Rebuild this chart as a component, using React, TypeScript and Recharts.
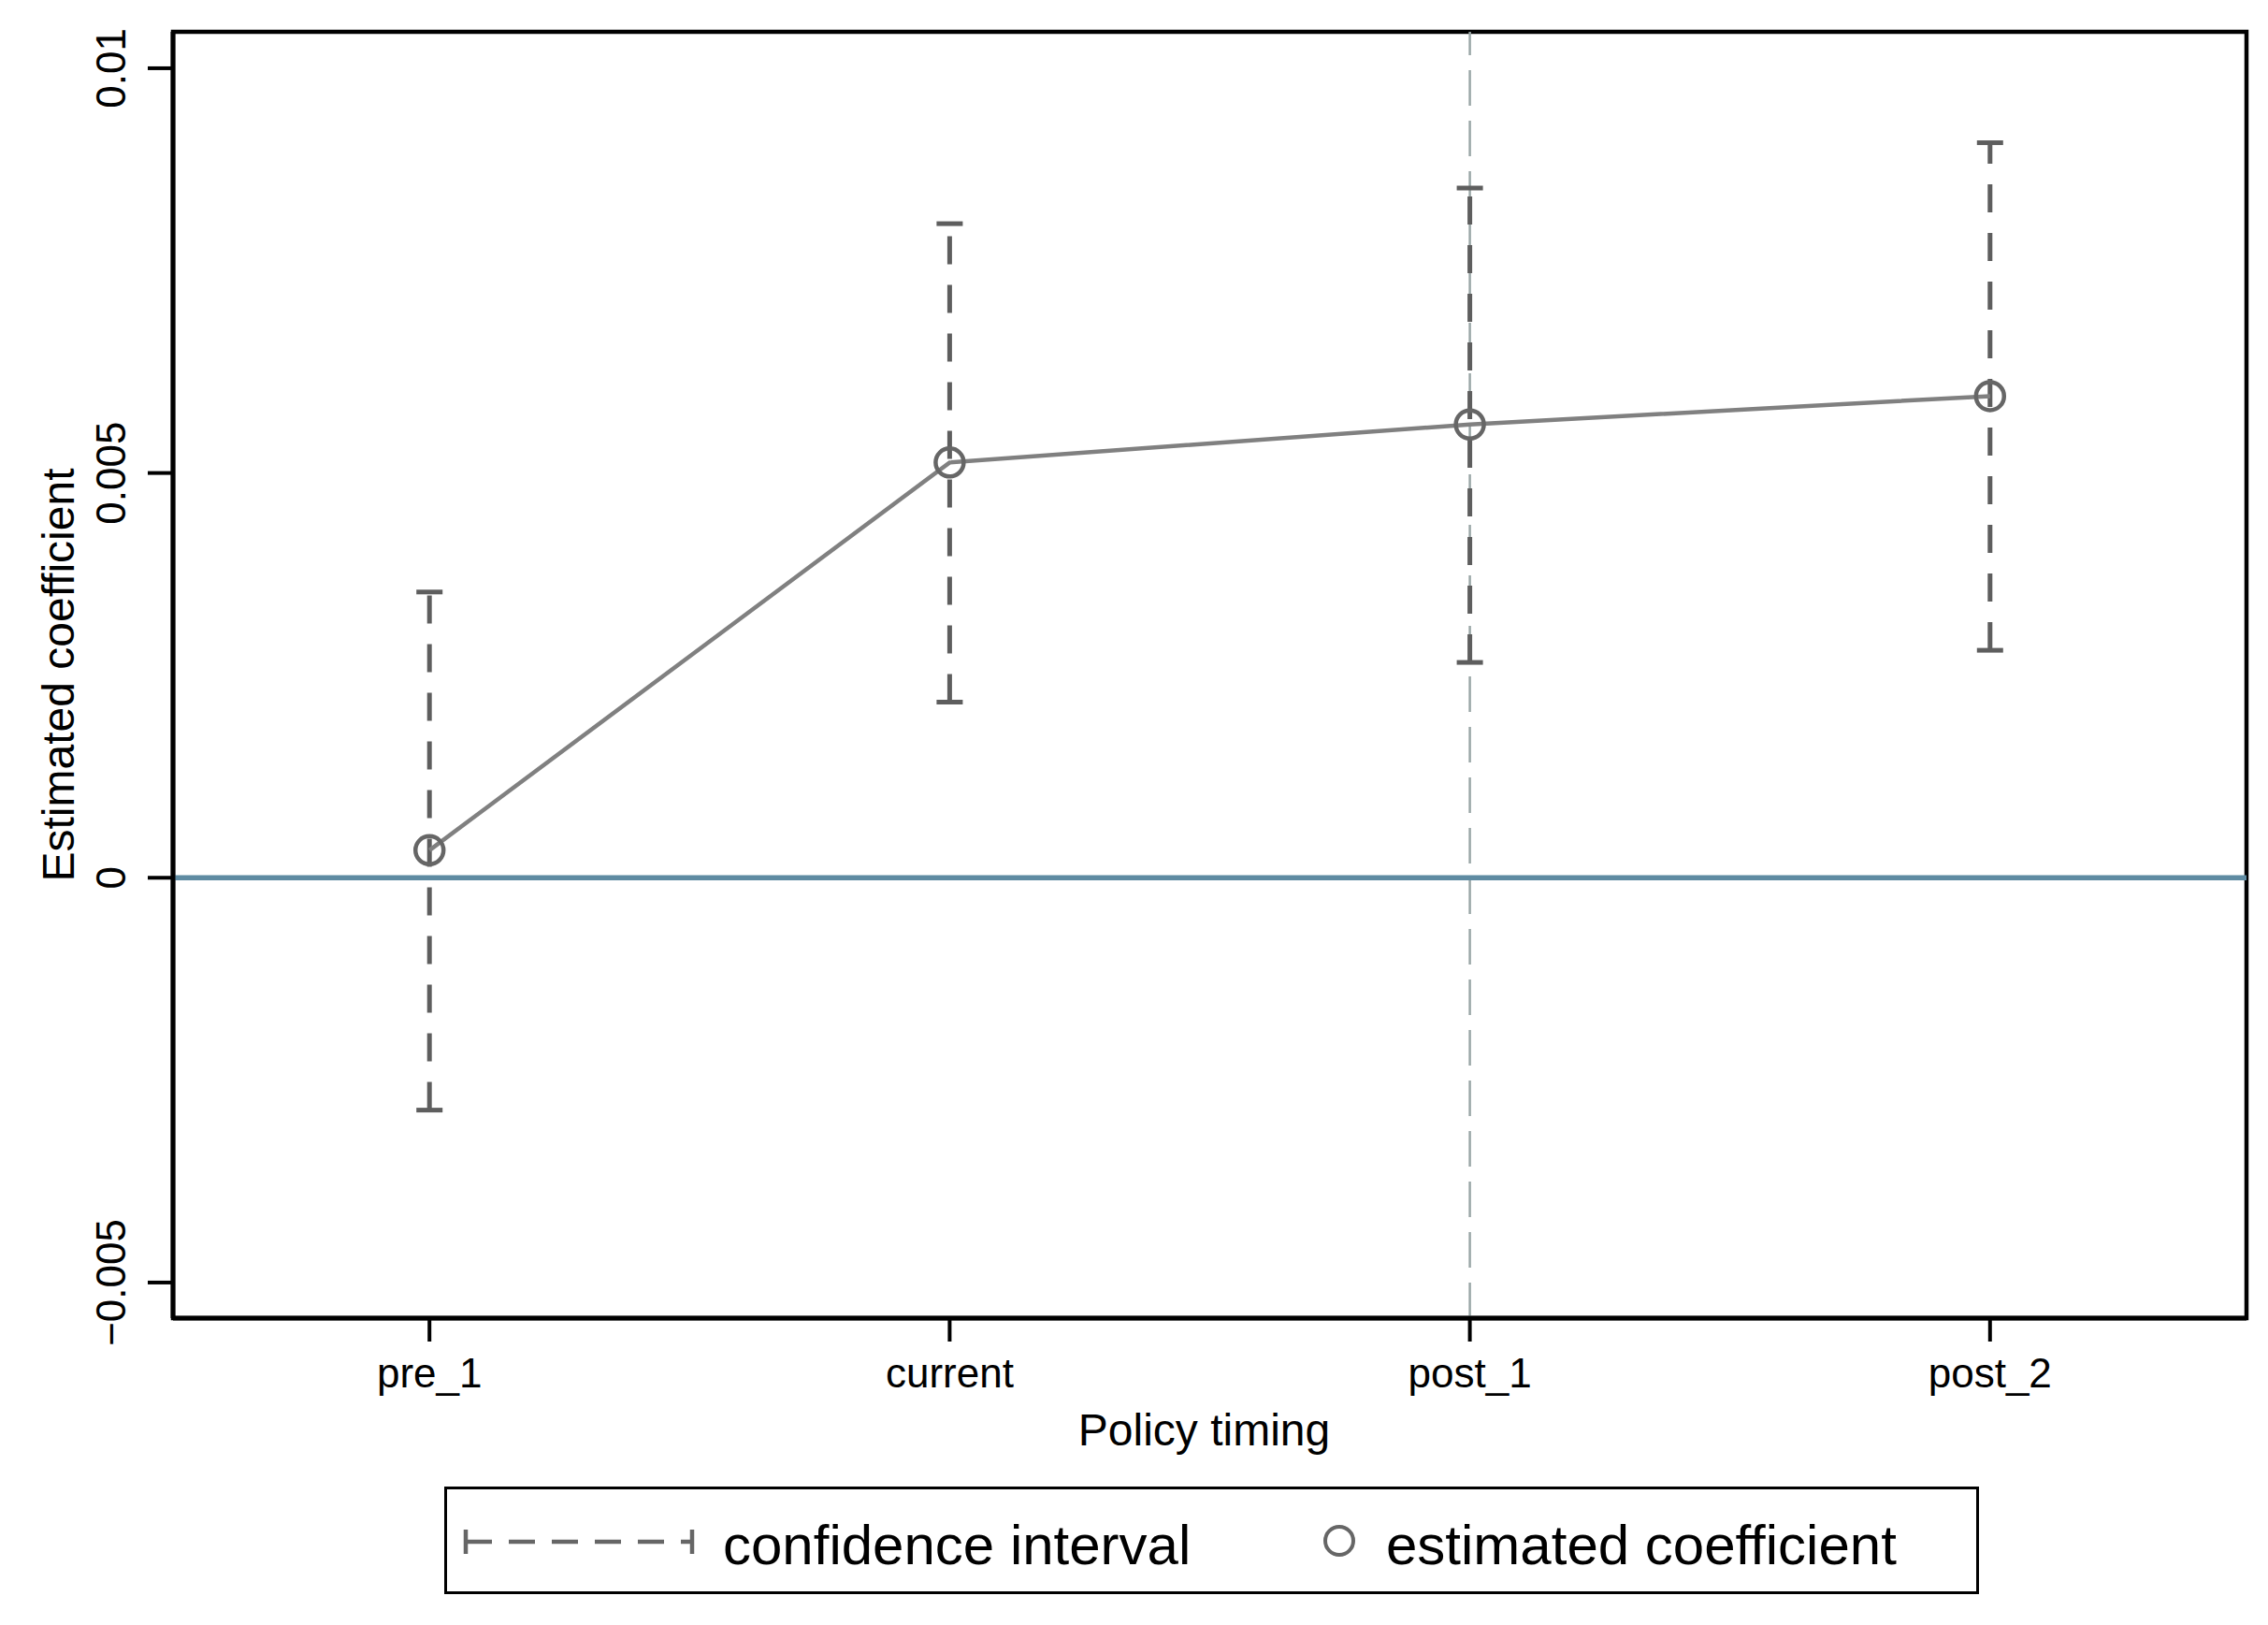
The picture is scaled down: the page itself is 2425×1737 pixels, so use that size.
import React from "react";
import {
  ComposedChart,
  ErrorBar,
  Label,
  Line,
  ReferenceArea,
  ReferenceLine,
  XAxis,
  YAxis,
} from "recharts";

const categories = ["pre_1", "current", "post_1", "post_2"];
const positions = [1, 2, 3, 4];
const coefficients = [0.00034, 0.00513, 0.0056, 0.00595];
const ciLower = [-0.00287, 0.00217, 0.00266, 0.00281];
const ciUpper = [0.00353, 0.00808, 0.00852, 0.00908];
const yTicks = [-0.005, 0, 0.005, 0.01];
const yTickLabels = ["\u22120.005", "0", "0.005", "0.01"];
const policyStart = 3;

const xDomain: [number, number] = [0.507, 4.493];
const yDomain: [number, number] = [-0.00544, 0.01045];

const font = "'Liberation Sans', Arial, Helvetica, sans-serif";

const rows = positions.map((x, i) => ({
  x,
  coef: coefficients[i],
  err: [coefficients[i] - ciLower[i], ciUpper[i] - coefficients[i]],
}));

const YTick = (props: any) => {
  const { y, payload } = props;
  const idx = yTicks.indexOf(payload.value);
  const cx = 119;
  return (
    <text
      x={cx}
      y={y}
      transform={`rotate(-90 ${cx} ${y})`}
      textAnchor="middle"
      dominantBaseline="central"
      fontSize={44}
      fontFamily={font}
      fill="#000"
    >
      {idx >= 0 ? yTickLabels[idx] : payload.value}
    </text>
  );
};

const CoefDot = (props: any) => {
  const { cx, cy, index } = props;
  return (
    <circle
      key={`dot-${index}`}
      cx={cx}
      cy={cy}
      r={15}
      fill="none"
      stroke="#666"
      strokeWidth={4.5}
    />
  );
};

const renderYTitle = (props: any) => {
  const vb = props.viewBox || {};
  const cy = vb.y + vb.height / 2;
  const cx = 62;
  return (
    <text
      x={cx}
      y={cy}
      transform={`rotate(-90 ${cx} ${cy})`}
      textAnchor="middle"
      dominantBaseline="central"
      fontSize={48}
      fontFamily={font}
      fill="#000"
    >
      Estimated coefficient
    </text>
  );
};

const renderXTitle = (props: any) => {
  const vb = props.viewBox || {};
  return (
    <text
      x={vb.x + vb.width / 2 - 6}
      y={1528}
      textAnchor="middle"
      dominantBaseline="central"
      fontSize={48}
      fontFamily={font}
      fill="#000"
    >
      Policy timing
    </text>
  );
};

const ChartLegend = () => (
  <div
    style={{
      position: "absolute",
      left: 475,
      top: 1589,
      width: 1641,
      height: 115,
      border: "3.5px solid #000",
      boxSizing: "border-box",
      background: "#fff",
      fontFamily: font,
      fontSize: 60,
      color: "#000",
    }}
  >
    <svg
      width={1641}
      height={115}
      style={{ position: "absolute", left: -3, top: -3 }}
    >
      <line x1={23} y1={46} x2={23} y2={72} stroke="#666" strokeWidth={4.5} />
      <line
        x1={23}
        y1={59}
        x2={265}
        y2={59}
        stroke="#666"
        strokeWidth={4.5}
        strokeDasharray="28 18"
      />
      <line x1={265} y1={46} x2={265} y2={72} stroke="#666" strokeWidth={4.5} />
      <circle cx={957} cy={58} r={15} fill="none" stroke="#666" strokeWidth={4} />
    </svg>
    <div
      style={{
        position: "absolute",
        left: 295,
        top: 5,
        height: "100%",
        display: "flex",
        alignItems: "center",
        lineHeight: 1,
        whiteSpace: "nowrap",
      }}
    >
      confidence interval
    </div>
    <div
      style={{
        position: "absolute",
        left: 1004,
        top: 5,
        height: "100%",
        display: "flex",
        alignItems: "center",
        lineHeight: 1,
        whiteSpace: "nowrap",
      }}
    >
      estimated coefficient
    </div>
  </div>
);

export default function App() {
  return (
    <div
      style={{
        position: "absolute",
        left: 0,
        top: 0,
        width: 2425,
        height: 1737,
        background: "#fff",
      }}
    >
      <ComposedChart
        width={2425}
        height={1737}
        data={rows}
        margin={{ top: 34, right: 23, left: 0, bottom: 208 }}
      >
        <XAxis
          type="number"
          dataKey="x"
          domain={xDomain}
          ticks={positions}
          interval={0}
          allowDataOverflow
          height={120}
          tickFormatter={(v: number) => categories[v - 1] ?? ""}
          tick={{ fill: "#000", fontSize: 44, fontFamily: font }}
          tickSize={25}
          tickMargin={18}
          tickLine={{ stroke: "#000", strokeWidth: 4 }}
          axisLine={{ stroke: "#000", strokeWidth: 5 }}
        >
          <Label content={renderXTitle} />
        </XAxis>
        <YAxis
          type="number"
          domain={yDomain}
          ticks={yTicks}
          interval={0}
          allowDataOverflow
          width={185}
          tick={<YTick />}
          tickSize={27}
          tickLine={{ stroke: "#000", strokeWidth: 4 }}
          axisLine={{ stroke: "#000", strokeWidth: 5 }}
        >
          <Label content={renderYTitle} />
        </YAxis>
        <ReferenceArea
          x1={xDomain[0]}
          x2={xDomain[1]}
          y1={yDomain[0]}
          y2={yDomain[1]}
          fill="none"
          stroke="#000"
          strokeWidth={4.5}
          ifOverflow="visible"
        />
        <ReferenceLine
          x={policyStart}
          stroke="#9aa7a7"
          strokeWidth={2.5}
          strokeDasharray="38 16"
        />
        <ReferenceLine y={0} stroke="#5f8ba2" strokeWidth={5.5} />
        <Line
          type="linear"
          dataKey="coef"
          stroke="#808080"
          strokeWidth={4.5}
          dot={CoefDot}
          activeDot={false}
          isAnimationActive={false}
        >
          <ErrorBar
            dataKey="err"
            direction="y"
            width={14}
            stroke="#5e5e5e"
            strokeWidth={5}
            strokeDasharray="30 22"
            isAnimationActive={false}
          />
        </Line>
      </ComposedChart>
      <ChartLegend />
    </div>
  );
}
